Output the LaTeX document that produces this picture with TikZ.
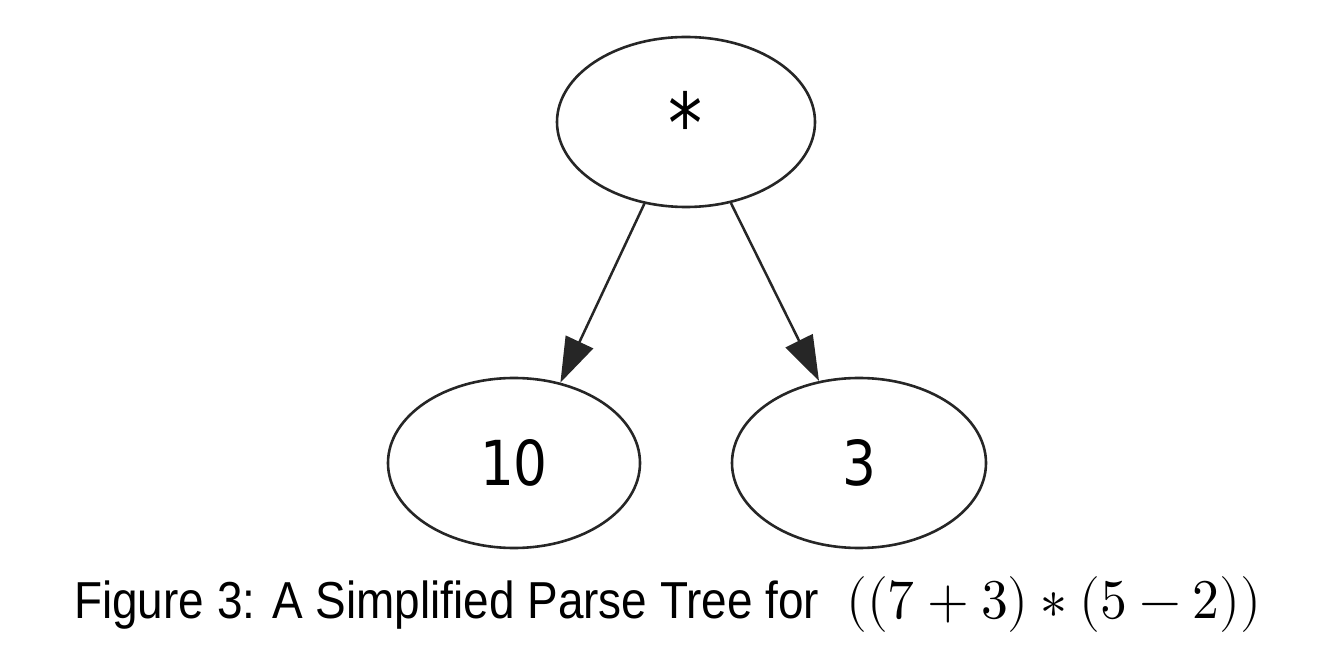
\documentclass[tikz,border=0pt]{standalone}
\usepackage{fontspec}
\usepackage{unicode-math}
\setmainfont{Liberation Sans}
\setmathfont{Latin Modern Math}
\newfontfamily\nodefont{DejaVu Sans}
\usetikzlibrary{shapes.geometric,arrows.meta}
\begin{document}
\begin{tikzpicture}[x=1pt,y=1pt,
  treenode/.style={draw=black!85, line width=2.6pt, ellipse, inner sep=0pt,
    minimum width=258pt, minimum height=170pt,
    font=\nodefont\fontsize{62}{62}\selectfont, text height=46pt, text depth=0pt},
  arr/.style={draw=black!85, line width=2.5pt,
    -{Triangle[length=45pt,width=30pt]}}]
\useasboundingbox (0,0) rectangle (1318,662);
\node[treenode] (root) at (686,540) {\raisebox{-9pt}{\scalebox{1.1}[1.35]{*}}};
\node[treenode, minimum width=252pt] (left) at (514,199) {\scalebox{0.86}[1]{10}};
\node[treenode, minimum width=254pt] (right) at (859,199) {\scalebox{0.86}[1]{3}};
\draw[arr] (root.243.7) -- (left.60);
\draw[arr] (root.299.5) -- (right.116.8);
\node[anchor=base west, inner sep=0pt] (caption) at (74,44)
  {\resizebox{745pt}{\height}{\fontsize{52}{52}\selectfont Figure 3: A Simplified Parse Tree for}%
   \hspace{27pt}%
   \resizebox{415pt}{\height}{\fontsize{56}{56}\selectfont$((7+3)*(5-2))$}};
\end{tikzpicture}
\end{document}
